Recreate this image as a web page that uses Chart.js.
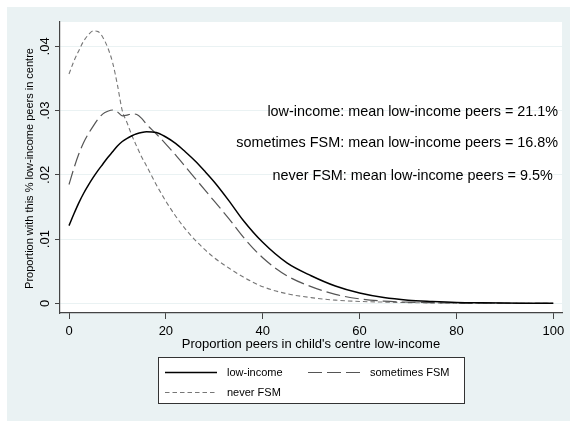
<!DOCTYPE html>
<html>
<head>
<meta charset="utf-8">
<script src="https://cdn.jsdelivr.net/npm/chart.js@4/dist/chart.umd.min.js"></script>
<style>
  html, body { margin: 0; padding: 0; background: #ffffff; }
  canvas { display: block; }
</style>
</head>
<body>
<canvas id="c" width="570" height="421"></canvas>
<script>
// Share of low-income peers in the child's centre (%)
const pctPeers = [0,1,2,3,4,5,6,7,8,9,10,11,12,13,14,15,16,18,20,22,24,26,28,30,33,36,40,45,50,55,60,65,70,75,80,85,90,95,100];

// Density: children who are low-income
const lowIncome = [0.0121,0.0139,0.0156,0.0171,0.0184,0.0196,0.0207,0.0217,0.0227,0.0236,0.0245,0.0252,0.0257,0.0261,0.0264,0.0266,0.0267,0.0266,0.0259,0.0249,0.0236,0.0222,0.0206,0.0189,0.0160,0.0129,0.0095,0.0063,0.0043,0.0027,0.0016,0.0009,0.0005,0.0003,0.00015,0.00008,0.00004,0.00002,0.00001];

// Density: children sometimes on free school meals
const sometimesFSM = [0.0185,0.0210,0.0232,0.0250,0.0264,0.0276,0.0287,0.0295,0.0299,0.0301,0.0298,0.0292,0.0293,0.0295,0.0294,0.0288,0.0279,0.0264,0.0248,0.0231,0.0213,0.0195,0.0177,0.0159,0.0132,0.0103,0.0071,0.0043,0.0026,0.0014,0.0007,0.00035,0.00018,0.0001,0.00005,0.00003,0.00002,0.00001,0];

// Density: children never on free school meals
const neverFSM = [0.0357,0.0377,0.0393,0.0408,0.0418,0.0424,0.0423,0.0414,0.0398,0.0375,0.0340,0.0300,0.0281,0.0261,0.0244,0.0228,0.0214,0.0185,0.0159,0.0136,0.0116,0.0099,0.0084,0.0071,0.0055,0.0041,0.0026,0.0015,0.0009,0.0005,0.0003,0.0002,0.00012,0.00007,0.00004,0.00002,0.00001,0.00001,0];

const seriesNames = ['low-income', 'sometimes FSM', 'never FSM'];

const xTickValues = [0, 20, 40, 60, 80, 100];
const yTickValues = [0, 0.01, 0.02, 0.03, 0.04];
const yTickLabels = ['0', '.01', '.02', '.03', '.04'];

const noteLines = [
  'low-income: mean low-income peers = 21.1%',
  'sometimes FSM: mean low-income peers = 16.8%',
  'never FSM: mean low-income peers = 9.5%'
];
const noteX = [101, 101, 99.9];
const noteY = [0.02977, 0.02492, 0.01977];

const xTitle = "Proportion peers in child's centre low-income";
const yTitle = 'Proportion with this % low-income peers in centre';

const FONT = "'Liberation Sans', Arial, Helvetica, sans-serif";
const REGION = '#eaf2f3';
const AXIS = '#444444';

const toPoints = ys => ys.map((y, i) => ({ x: pctPeers[i], y }));

const styles = [
  { borderColor: '#000000', borderWidth: 1.5, borderDash: [] },
  { borderColor: '#555555', borderWidth: 1.2, borderDash: [14, 5] },
  { borderColor: '#777777', borderWidth: 1.1, borderDash: [4.5, 3] }
];
const seriesValues = [lowIncome, sometimesFSM, neverFSM];

const datasets = seriesValues.map((vals, i) => ({
  label: seriesNames[i],
  data: toPoints(vals),
  borderColor: styles[i].borderColor,
  borderWidth: styles[i].borderWidth,
  borderDash: styles[i].borderDash,
  fill: false,
  pointRadius: 0,
  cubicInterpolationMode: 'monotone'
}));

const frame = {
  id: 'frame',
  beforeDraw(chart) {
    const { ctx, chartArea: a, width, height } = chart;
    ctx.save();
    ctx.fillStyle = '#ffffff';
    ctx.fillRect(0, 0, width, height);
    ctx.fillStyle = REGION;
    ctx.fillRect(7, 7, width - 7, height - 7);
    ctx.fillStyle = '#ffffff';
    ctx.fillRect(a.left, a.top, a.right - a.left, a.bottom - a.top);
    ctx.restore();
  },
  afterDraw(chart) {
    const { ctx, chartArea: a } = chart;
    const xs = chart.scales.x, ys = chart.scales.y;
    ctx.save();
    ctx.fillStyle = '#000000';

    // x tick labels
    ctx.font = '13px ' + FONT;
    ctx.textAlign = 'center';
    ctx.textBaseline = 'alphabetic';
    xTickValues.forEach(v => ctx.fillText(String(v), xs.getPixelForValue(v), a.bottom + 22));

    // y tick labels, rotated
    yTickValues.forEach((v, i) => {
      ctx.save();
      ctx.translate(a.left - 11, ys.getPixelForValue(v));
      ctx.rotate(-Math.PI / 2);
      ctx.textAlign = 'center';
      ctx.fillText(yTickLabels[i], 0, 0);
      ctx.restore();
    });

    // axis titles
    ctx.font = '13px ' + FONT;
    ctx.textAlign = 'center';
    ctx.fillText(xTitle, (a.left + a.right) / 2, a.bottom + 35);
    ctx.save();
    ctx.font = '11px ' + FONT;
    ctx.translate(33, (a.top + a.bottom) / 2 + 1);
    ctx.rotate(-Math.PI / 2);
    ctx.fillText(yTitle, 0, 0);
    ctx.restore();

    // notes with group means
    ctx.font = '14.4px ' + FONT;
    ctx.textAlign = 'right';
    ctx.textBaseline = 'middle';
    noteLines.forEach((t, i) => ctx.fillText(t, xs.getPixelForValue(noteX[i]), ys.getPixelForValue(noteY[i])));

    // legend box
    const lx = 158.5, ly = 357.5, lw = 306, lh = 46;
    ctx.fillStyle = '#ffffff';
    ctx.fillRect(lx, ly, lw, lh);
    ctx.strokeStyle = '#333333';
    ctx.lineWidth = 1;
    ctx.strokeRect(lx, ly, lw, lh);
    const slots = [
      { x: 165, y: 372.5 },
      { x: 308, y: 372.5 },
      { x: 165, y: 392.5 }
    ];
    ctx.font = '11px ' + FONT;
    ctx.textAlign = 'left';
    ctx.textBaseline = 'middle';
    chart.data.datasets.forEach((ds, i) => {
      const s = slots[i];
      ctx.save();
      ctx.strokeStyle = ds.borderColor;
      ctx.lineWidth = ds.borderWidth;
      ctx.setLineDash(ds.borderDash);
      ctx.beginPath();
      ctx.moveTo(s.x, s.y);
      ctx.lineTo(s.x + 52, s.y);
      ctx.stroke();
      ctx.restore();
      ctx.fillStyle = '#000000';
      ctx.fillText(ds.label, s.x + 62, s.y);
    });
    ctx.restore();
  }
};

new Chart(document.getElementById('c'), {
  type: 'line',
  data: { datasets },
  options: {
    responsive: false,
    animation: false,
    devicePixelRatio: 1,
    layout: { padding: { left: 0, right: 8, top: 22, bottom: 0 } },
    plugins: { legend: { display: false }, tooltip: { enabled: false } },
    scales: {
      x: {
        type: 'linear',
        min: -1.86,
        max: 101.8,
        afterBuildTicks(s) { s.ticks = xTickValues.map(v => ({ value: v })); },
        afterFit(s) { s.height = 108; },
        ticks: { display: false },
        grid: { drawOnChartArea: false, drawTicks: true, tickLength: 6, tickColor: AXIS, tickWidth: 1 },
        border: { display: true, color: AXIS, width: 1.2 }
      },
      y: {
        type: 'linear',
        min: -0.0015,
        max: 0.0438,
        afterBuildTicks(s) { s.ticks = yTickValues.map(v => ({ value: v })); },
        afterFit(s) { s.width = 60; },
        ticks: { display: false },
        grid: { drawOnChartArea: true, color: REGION, lineWidth: 1, drawTicks: true, tickLength: 5, tickColor: AXIS, tickWidth: 1 },
        border: { display: true, color: AXIS, width: 1.2 }
      }
    }
  },
  plugins: [frame]
});
</script>
</body>
</html>
